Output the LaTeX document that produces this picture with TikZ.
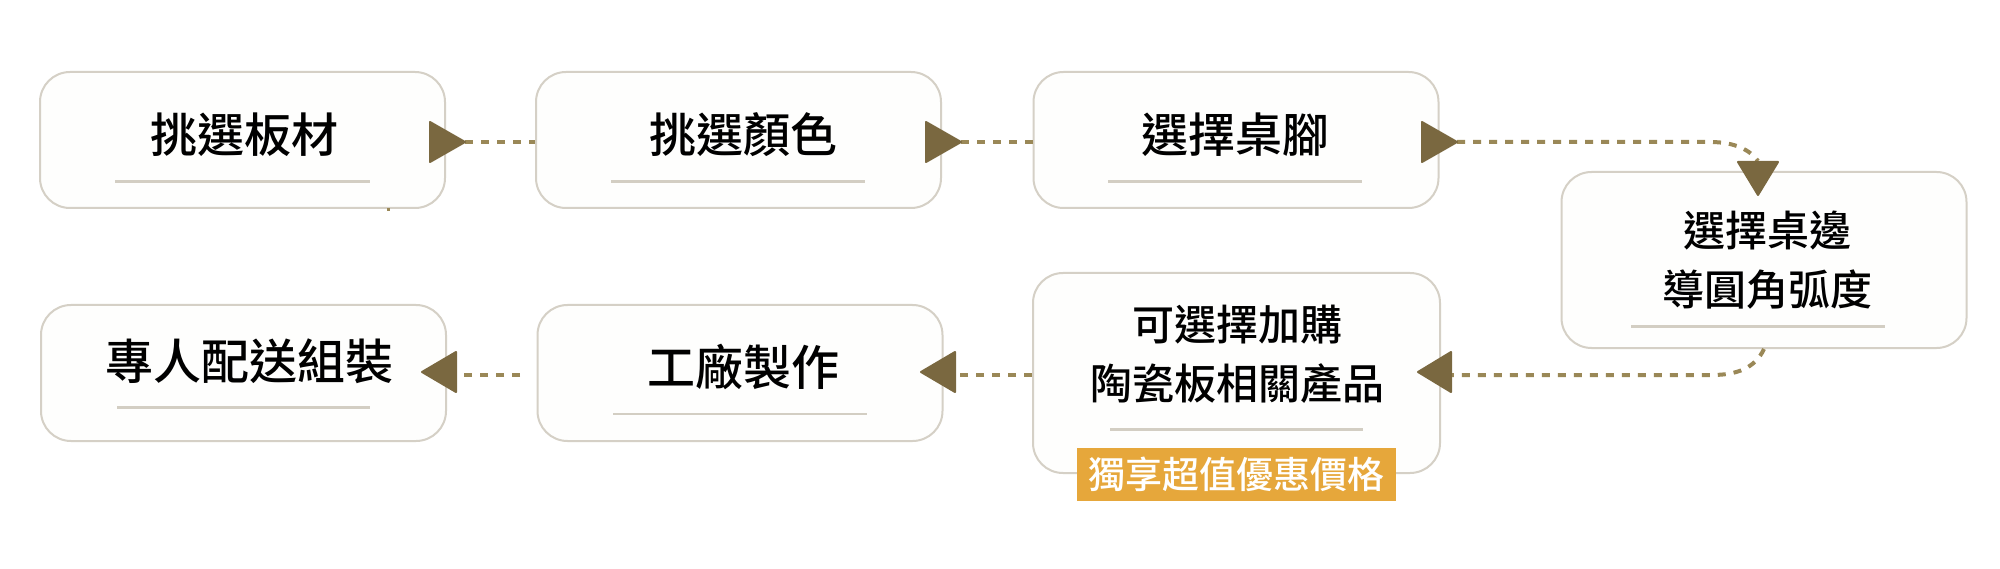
\documentclass[tikz,border=0pt]{standalone}
\usepackage{fontspec}
\newfontfamily\cjk{Noto Sans CJK TC Medium}
\definecolor{boxline}{HTML}{D5D0C6}
\definecolor{boxfill}{HTML}{FEFEFD}
\definecolor{arrowc}{HTML}{7A6840}
\definecolor{dotc}{HTML}{9A8857}
\definecolor{tagc}{HTML}{E6A73B}
\definecolor{ulinec}{HTML}{D3CEC3}
\begin{document}
\begin{tikzpicture}[x=1pt,y=-1pt,
  card/.style={draw=boxline, line width=2pt, fill=boxfill, rounded corners=30pt,
    inner sep=0pt, minimum width=405pt, minimum height=136pt},
  bigtxt/.style={inner sep=0pt, text=black, font=\cjk\fontsize{47}{47}\selectfont},
  twotxt/.style={inner sep=0pt, text=black, align=center, font=\cjk\fontsize{42}{59}\selectfont},
  tag/.style={fill=tagc, text=white, inner sep=0pt, minimum width=319pt, minimum height=53pt,
    font=\cjk\fontsize{37}{37}\selectfont},
  uline/.style={draw=ulinec, line width=2.5pt},
  dotline/.style={draw=dotc, line width=4pt, dash pattern=on 8pt off 8pt},
  tri/.style={fill=arrowc, draw=arrowc, line width=2pt, line join=round}]
\useasboundingbox (0,0) rectangle (2000,569);
\fill[white] (0,0) rectangle (2000,569);

% cards
\node[card] (b1) at (242.5,140) {};
\node[card] (b2) at (738.5,140) {};
\node[card] (b3) at (1236,140) {};
\node[card, minimum height=176pt] (b4) at (1764,260) {};
\node[card, minimum width=407pt, minimum height=200pt] (b5) at (1236.5,373) {};
\node[card] (b6) at (740,373) {};
\node[card] (b7) at (243.5,373) {};

% texts
\node[bigtxt] (x1) at (244,135) {挑選板材};
\node[bigtxt] (x2) at (743,135) {挑選顏色};
\node[bigtxt] (x3) at (1235,135) {選擇桌腳};
\node[twotxt] (x4) at (1767,260.5) {選擇桌邊\\導圓角弧度};
\node[twotxt] (x5) at (1237,354.5) {可選擇加購\\陶瓷板相關產品};
\node[bigtxt, font=\cjk\fontsize{48}{48}\selectfont] (x6) at (743.5,367) {工廠製作};
\node[bigtxt, font=\cjk\fontsize{48}{48}\selectfont] (x7) at (249,361) {專人配送組裝};

% underlines
\draw[uline] (115,181.7) -- (370,181.7);
\draw[uline] (611,181.7) -- (865,181.7);
\draw[uline] (1108,181.7) -- (1362,181.7);
\draw[uline] (1631,326.7) -- (1885,326.7);
\draw[uline] (1110,429.3) -- (1363,429.3);
\draw[uline] (613,414) -- (867,414);
\draw[uline] (117,407.7) -- (370,407.7);

% tag
\node[tag] (tg) at (1236.5,474.5) {獨享超值優惠價格};

% arrow tip coordinates
\coordinate (p1) at (465,142);
\coordinate (p2) at (961,142);
\coordinate (p3) at (1457,142);
\coordinate (p4) at (1758,195);
\coordinate (p5) at (1418,372);
\coordinate (p6) at (921,372);
\coordinate (p7) at (422,372);
\coordinate (q4) at (1758,161);
\coordinate (q5) at (1451,375);
\coordinate (q6) at (957,375);
\coordinate (q7) at (463,375);
\coordinate (e7) at (520,375);

% dotted connectors
\draw[dotline] (p1) -- (p1 -| b2.west);
\draw[dotline] (p2) -- (p2 -| b3.west);
\draw[dotline] (p3) -- (1710,142) .. controls (1735,142) and (1750,150) .. (q4);
\draw[dotline] (b4.south) .. controls (1755,368) and (1737,375) .. (1712,375) -- (q5);
\draw[dotline] (q5 -| b5.west) -- (q6);
\draw[dotline] (e7) -- (q7);

% triangles
\filldraw[tri] (p1) -- ++(-35,-20) -- ++(0,40) -- cycle;
\filldraw[tri] (p2) -- ++(-35,-20) -- ++(0,40) -- cycle;
\filldraw[tri] (p3) -- ++(-35,-20) -- ++(0,40) -- cycle;
\filldraw[tri] (p4) -- ++(-20,-33) -- ++(40,0) -- cycle;
\filldraw[tri] (p5) -- ++(33,-20) -- ++(0,40) -- cycle;
\filldraw[tri] (p6) -- ++(34,-20) -- ++(0,40) -- cycle;
\filldraw[tri] (p7) -- ++(34,-20) -- ++(0,40) -- cycle;

% tiny mark below first card
\fill[dotc] (387,208.5) rectangle (390,211);
\end{tikzpicture}
\end{document}
